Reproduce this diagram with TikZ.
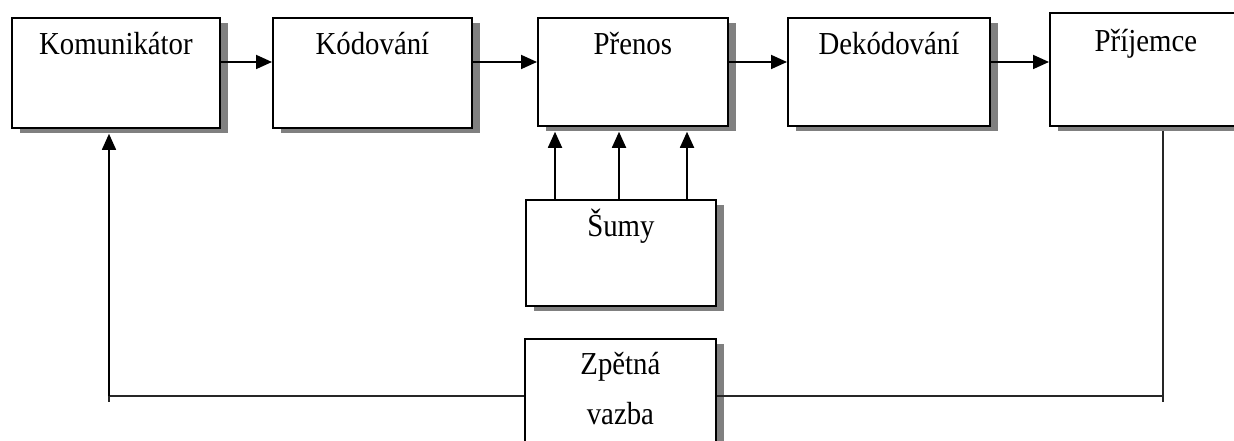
\documentclass[tikz,border=0pt]{standalone}
\usepackage{fontspec}
\setmainfont{Liberation Serif}
\usetikzlibrary{arrows.meta,shadows}
\definecolor{shadowgray}{RGB}{128,128,128}
\newcommand{\lbtext}[1]{\scalebox{0.9}[1]{#1}}
\tikzset{
  box/.style={draw=black, line width=1.8pt, fill=white, anchor=north west, inner sep=0pt,
    drop shadow={shadow xshift=8pt, shadow yshift=-5.5pt, fill=shadowgray, opacity=1}},
  lbl/.style={anchor=base, inner sep=0pt, font=\fontsize{32}{38}\selectfont},
  arr/.style={line width=1.8pt, -{Triangle[length=16pt,width=14pt]}},
  fb/.style={line width=1.5pt, color=black!85}
}
\begin{document}
\begin{tikzpicture}[x=1pt,y=1pt]
\useasboundingbox (0,0) rectangle (1234,441);
% boxes
\node[box, minimum width=208pt, minimum height=110pt] (kom) at (11,424) {};
\node[box, minimum width=199pt, minimum height=110pt] (kod) at (272,424) {};
\node[box, minimum width=190pt, minimum height=108pt] (pre) at (537,424) {};
\node[box, minimum width=202pt, minimum height=108pt] (dek) at (787,424) {};
\node[box, minimum width=192pt, minimum height=113pt] (pri) at (1049,429) {};
\node[box, minimum width=190pt, minimum height=106pt] (sum) at (525,242) {};
\node[box, minimum width=191pt, minimum height=112pt] (zpe) at (524,103) {};
% labels
\node[lbl] (tkom) at ([yshift=-38pt]kom.north) {\lbtext{Komunikátor}};
\node[lbl] (tkod) at ([yshift=-38pt]kod.north) {\lbtext{Kódování}};
\node[lbl] (tpre) at ([yshift=-38pt]pre.north) {\lbtext{Přenos}};
\node[lbl] (tdek) at ([yshift=-38pt]dek.north) {\lbtext{Dekódování}};
\node[lbl] (tpri) at ([yshift=-40pt]pri.north) {\lbtext{Příjemce}};
\node[lbl] (tsum) at ([yshift=-38pt]sum.north) {\lbtext{Šumy}};
\node[lbl] (tzp1) at ([yshift=-37pt]zpe.north) {\lbtext{Zpětná}};
\node[lbl] (tzp2) at ([yshift=-87pt]zpe.north) {\lbtext{vazba}};
% top row arrows
\draw[arr] ([yshift=-45pt]kom.north east) -- ([yshift=-45pt]kod.north west);
\draw[arr] ([yshift=-45pt]kod.north east) -- ([yshift=-45pt]pre.north west);
\draw[arr] ([yshift=-45pt]pre.north east) -- ([yshift=-45pt]dek.north west);
\draw[arr] ([yshift=-45pt]dek.north east) -- ([yshift=-45pt]dek.north east -| pri.west);
% noise arrows
\coordinate (s1) at ([xshift=30pt]sum.north west);
\coordinate (s2) at ([xshift=94pt]sum.north west);
\coordinate (s3) at ([xshift=162pt]sum.north west);
\draw[arr] (s1) -- ([yshift=-5pt]s1 |- pre.south);
\draw[arr] (s2) -- ([yshift=-5pt]s2 |- pre.south);
\draw[arr] (s3) -- ([yshift=-5pt]s3 |- pre.south);
% feedback loop
\coordinate (fr) at ([xshift=114pt,yshift=-4pt]pri.south west);
\coordinate (frb) at (1163,39);
\coordinate (flb) at (109,39);
\coordinate (fl) at ([xshift=98pt]kom.south west);
\draw[fb] (fr) -- (frb);
\draw[fb] (1163,45) -- (1163,45 -| zpe.east);
\draw[fb] (109,45 -| zpe.west) -- (109,45);
\draw[fb] (flb) -- (109,45);
\draw[arr, line width=1.5pt] (109,45) -- ([yshift=-5pt]fl);
\end{tikzpicture}
\end{document}
